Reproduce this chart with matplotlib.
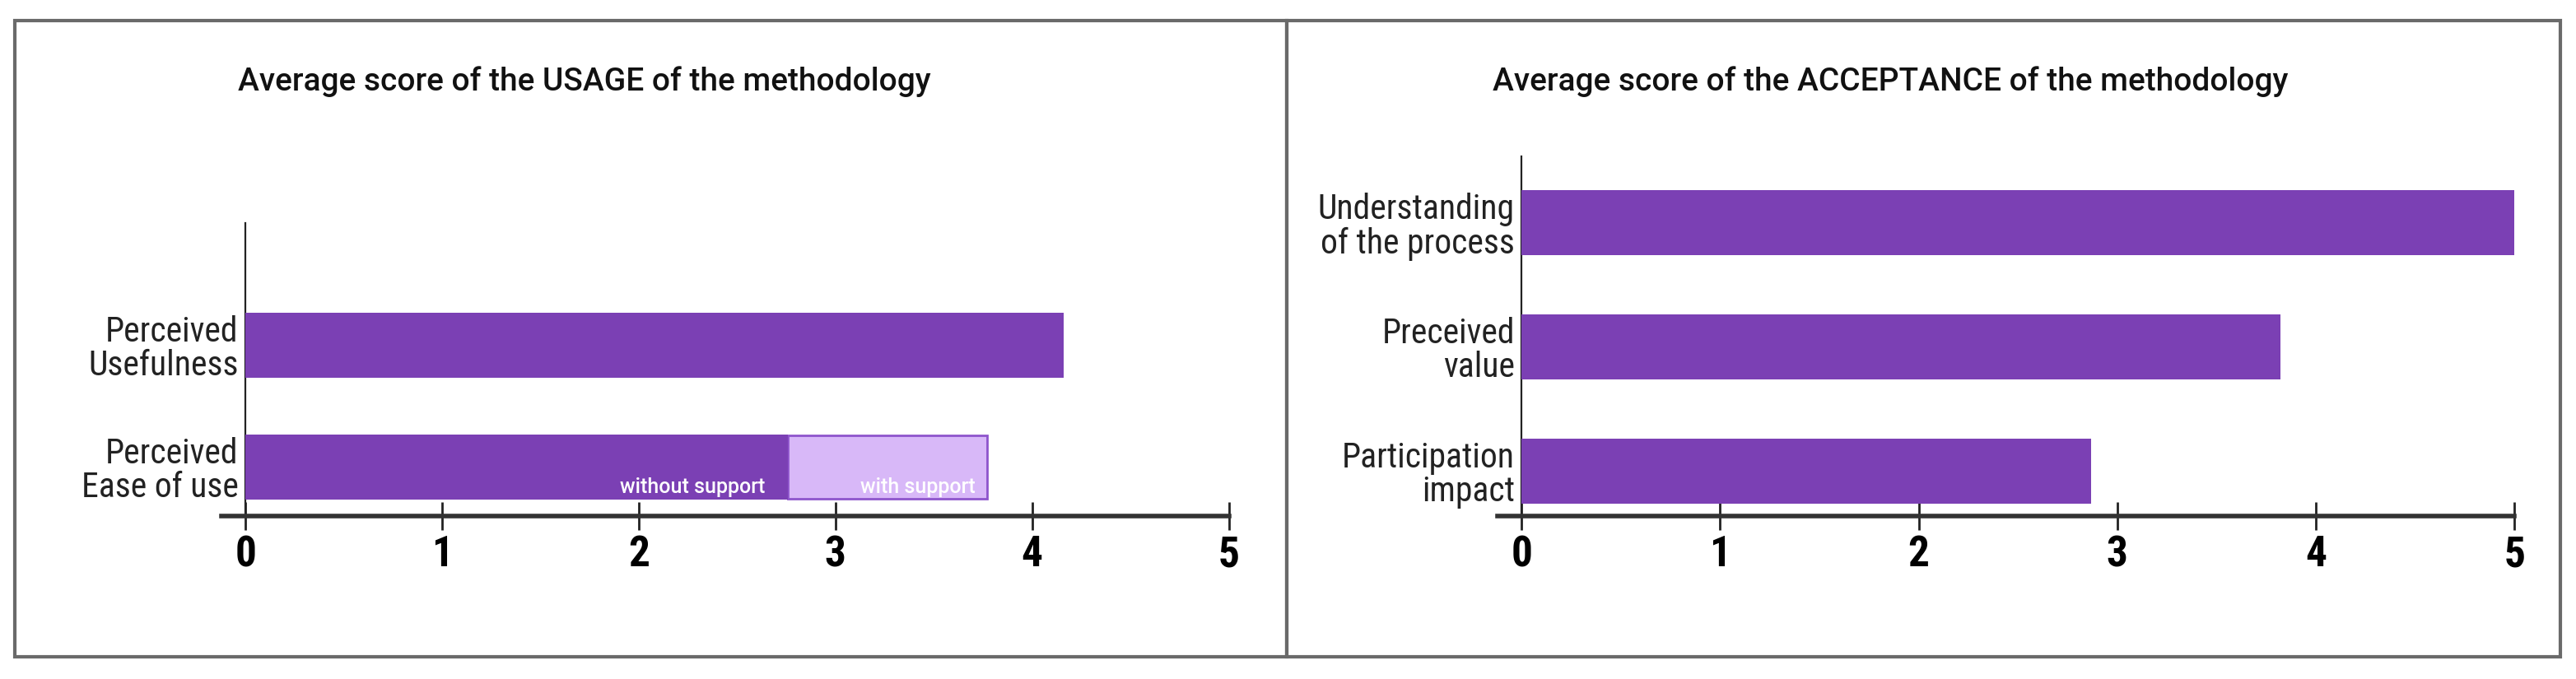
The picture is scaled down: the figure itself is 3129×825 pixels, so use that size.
import matplotlib
matplotlib.use("Agg")
import matplotlib.pyplot as plt
from matplotlib.patches import Rectangle

plt.rcParams['font.family'] = ['Roboto Condensed', 'Roboto', 'DejaVu Sans']

# data
usage_labels = ["Perceived\nEase of use", "Perceived\nUsefulness"]
usage_values = [2.76, 4.16]
ease_with_support = 3.77
accept_labels = ["Participation\nimpact", "Preceived\nvalue", "Understanding\nof the process"]
accept_values = [2.87, 3.82, 5.0]
x_ticks = [0, 1, 2, 3, 4, 5]

dark = "#7B40B4"
light = "#D8B8F8"

fig = plt.figure(figsize=(31.29, 8.25), dpi=100)

# panel frames
for x0, x1 in [(0.00575, 0.4995), (0.4995, 0.9939)]:
    fig.patches.append(Rectangle((x0, 0.0327), x1 - x0, 0.937, transform=fig.transFigure,
                                 fill=False, edgecolor="#6a6a6a", linewidth=3))


def style_axis(ax, ylim):
    ax.set_xlim(-0.12, 5)
    ax.set_ylim(*ylim)
    ax.spines['right'].set_visible(False)
    ax.spines['top'].set_visible(False)
    ax.spines['left'].set_position(('data', 0))
    ax.spines['left'].set_linewidth(1.6)
    ax.spines['left'].set_color("#222222")
    ax.spines['bottom'].set_linewidth(4)
    ax.spines['bottom'].set_color("#333333")
    ax.set_xticks(x_ticks)
    ax.set_xticklabels([str(t) for t in x_ticks], fontsize=37, fontweight='bold')
    ax.tick_params(axis='x', direction='inout', length=24, width=2, color="#222222", pad=4)
    ax.tick_params(axis='y', length=0, pad=6, labelsize=30)
    for lab in ax.get_yticklabels():
        lab.set_linespacing(1.0)
        lab.set_color("#222222")
    for t in ax.xaxis.get_major_ticks():
        t.tick1line.set_clip_on(False)


# left panel: usage
ax1 = fig.add_axes([0.0861, 0.24, 0.3909, 0.4315])
y1 = list(range(len(usage_labels)))
ax1.barh(y1, usage_values, height=0.534, color=dark, zorder=3)
ax1.barh(0, ease_with_support - usage_values[0], left=usage_values[0], height=0.52,
         color=light, edgecolor="#8E55CC", linewidth=2, zorder=2)
ax1.set_yticks(y1)
ax1.set_yticklabels(usage_labels)
style_axis(ax1, (-0.405, 2.0))
ax1.annotate("without support", (usage_values[0], -0.267), xytext=(-20, 2), textcoords='offset points',
             ha='right', va='bottom', color='white', fontsize=18, fontweight='medium',
             family='Roboto', zorder=5)
ax1.annotate("with support", (ease_with_support, -0.267), xytext=(-10, 2), textcoords='offset points',
             ha='right', va='bottom', color='white', fontsize=18, fontweight='medium',
             family='Roboto', zorder=5)
fig.text(0.0925, 1 - 110 / 825, "Average score of the USAGE of the methodology",
         fontsize=28, fontweight='medium', family='Roboto', ha='left', va='baseline', color="#111111")

# right panel: acceptance
ax2 = fig.add_axes([0.5814, 0.24, 0.3947, 0.5297])
y2 = list(range(len(accept_labels)))
ax2.barh(y2, accept_values, height=0.523, color=dark, zorder=3)
ax2.set_yticks(y2)
ax2.set_yticklabels(accept_labels)
style_axis(ax2, (-0.358, 2.536))
fig.text(0.5795, 1 - 110 / 825, "Average score of the ACCEPTANCE of the methodology",
         fontsize=28, fontweight='medium', family='Roboto', ha='left', va='baseline', color="#111111")

fig.savefig("out.png", dpi=100, facecolor="white")
